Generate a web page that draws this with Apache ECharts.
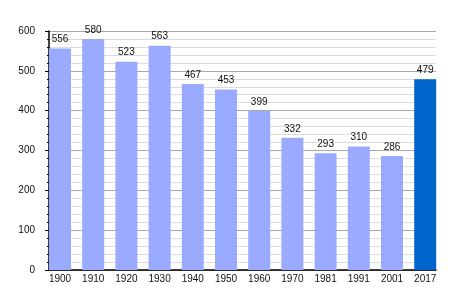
<!DOCTYPE html>
<html><head><meta charset="utf-8">
<script src="https://cdn.jsdelivr.net/npm/echarts@6/dist/echarts.min.js"></script>
<style>html,body{margin:0;padding:0;background:#fff}#c{width:464px;height:300px}</style>
</head><body><div id="c"></div>
<script>
const years = ['1900','1910','1920','1930','1940','1950','1960','1970','1981','1991','2001','2017'];
const population = [556,580,523,563,467,453,399,332,293,310,286,479];
const highlightYear = '2017';
const yTicks = [0,100,200,300,400,500,600];

const chart = echarts.init(document.getElementById('c'), null, {renderer:'canvas'});
const font = 'Liberation Sans, Arial, sans-serif';
chart.setOption({
  animation:false,
  backgroundColor:'#fff',
  grid:[
    {left:43.4, right:22.2, top:31, bottom:30},
    {left:49, right:28, top:31, bottom:30}
  ],
  xAxis:[
    {type:'category', gridIndex:0, data:years, boundaryGap:true,
     axisLine:{show:false}, axisTick:{show:false},
     axisLabel:{color:'#111', fontSize:10, fontFamily:font, margin:4, interval:0}},
    {type:'value', gridIndex:1, min:0, max:1, show:true,
     axisLine:{show:true, onZero:false, lineStyle:{color:'#000', width:1.5}},
     axisTick:{show:false}, axisLabel:{show:false}, splitLine:{show:false}}
  ],
  yAxis:[
    {type:'value', gridIndex:0, min:0, max:600, show:false, splitLine:{show:false}},
    {type:'value', gridIndex:1, min:yTicks[0], max:yTicks[yTicks.length-1], interval:100,
     axisLine:{show:true, lineStyle:{color:'#000', width:1.5}},
     axisTick:{show:true, length:4, lineStyle:{color:'#000'}},
     minorTick:{show:true, splitNumber:5, length:2, lineStyle:{color:'#000'}},
     axisLabel:{color:'#111', fontSize:10, fontFamily:font, margin:14},
     splitLine:{show:true, lineStyle:{color:'#a8a8a8', width:1}},
     minorSplitLine:{show:true, lineStyle:{color:'#dcdcdc', width:1}}}
  ],
  series:[{
    type:'bar', xAxisIndex:0, yAxisIndex:0, barWidth:22,
    data: population.map((v,i)=>({value:v, itemStyle:{color: years[i]===highlightYear ? '#0066cc' : '#99aaff'}})),
    label:{show:true, position:'top', distance:4, color:'#111', fontSize:10, fontFamily:font},
    z:3
  }]
});
</script></body></html>
